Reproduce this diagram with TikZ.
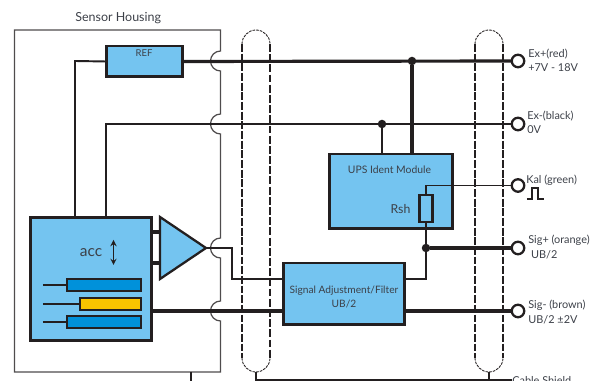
\documentclass[tikz,border=0pt]{standalone}
\usepackage{fontspec}
\setmainfont{Lato}
\usetikzlibrary{shapes.geometric}
\definecolor{boxblue}{HTML}{74C4F0}
\definecolor{barblue}{HTML}{0091DA}
\definecolor{baryellow}{HTML}{F8C400}
\definecolor{inkdark}{HTML}{231F20}
\definecolor{inktext}{HTML}{3C4048}
\tikzset{
    bluebox/.style={draw=inkdark,fill=boxblue,line width=1.7pt,inner sep=0pt,outer sep=0pt},
    barbox/.style={draw=inkdark,fill=barblue,line width=0.7pt,inner sep=0pt,outer sep=0pt,minimum height=0.24cm},
    terminal/.style={circle,draw=inkdark,fill=white,line width=1.3pt,minimum size=0.25cm,inner sep=0pt,outer sep=0pt},
    junction/.style={circle,fill=inkdark,minimum size=0.17cm,inner sep=0pt,outer sep=0pt},
    txt/.style={text=inktext,font=\fontsize{6.2}{8}\selectfont,inner sep=0pt},
    heavywire/.style={draw=inkdark,line width=1.8pt},
    wire/.style={draw=inkdark,line width=1.3pt},
    thinwire/.style={draw=inkdark,line width=0.6pt},
    shieldthick/.style={draw=inkdark,line width=1.3pt,dash pattern=on 4.5pt off 1pt},
    shieldthin/.style={draw=inkdark,line width=0.6pt,dash pattern=on 4.5pt off 1.3pt},
    shieldcap/.style={draw=inkdark,line width=0.5pt,dash pattern=on 1.5pt off 0.6pt}
}
\begin{document}
\begin{tikzpicture}[x=0.02cm,y=-0.02cm]
    \clip (0,0) rectangle (600,381);
    % housing with the four cable notches
    \draw[draw=inkdark!80,line width=0.7pt] (14.5,30) -- (220.5,30)
        foreach \y in {61,124,248,311} {-- (220.5,\y-10) arc[start angle=270,end angle=90,radius=10]}
        -- (220.5,372) -- (14.5,372) -- cycle;
    \node[txt,font=\fontsize{7.1}{8}\selectfont,anchor=west] (housing) at (75,18) {Sensor Housing};
    % blocks
    \node[bluebox,minimum width=1.54cm,minimum height=0.62cm] (ref) at (144.5,61.5) {};
    \node[txt,font=\fontsize{5.4}{7}\selectfont] (reflabel) at (144,53) {REF};
    \node[bluebox,minimum width=2.48cm,minimum height=1.5cm] (ups) at (391,191.5) {};
    \node[txt,font=\fontsize{5.9}{8}\selectfont] (upslabel) at (389.5,170) {UPS Ident Module};
    \node[txt,font=\fontsize{7}{8}\selectfont] (rshlabel) at (400.5,209) {Rsh};
    \node[bluebox,line width=1.2pt,minimum width=0.26cm,minimum height=0.54cm] (rsh) at (426,208.5) {};
    \node[bluebox,minimum width=2.44cm,minimum height=1.24cm] (filter) at (344,294) {};
    \node[txt,font=\fontsize{5.8}{7.9}\selectfont,align=center] (filterlabel) at (344,297) {Signal Adjustment/Filter\\UB/2};
    \node[bluebox,minimum width=2.44cm,minimum height=2.48cm] (acc) at (91,279) {};
    \node[txt,font=\fontsize{8.8}{11}\selectfont] (acclabel) at (91,253) {acc};
    \node[isosceles triangle,isosceles triangle stretches,bluebox,line width=1.3pt,minimum width=1.24cm,minimum height=0.92cm,anchor=lower side] (amp) at (160,248) {};
    % sensing elements
    \node[barbox,minimum width=1.48cm] (bartop) at (104,285) {};
    \node[barbox,fill=baryellow,minimum width=1.22cm] (barmid) at (110.5,304) {};
    \node[barbox,minimum width=1.48cm] (barbot) at (104,322) {};
    \coordinate (leadtop) at (43,285);
    \coordinate (leadmid) at (43,304);
    \coordinate (leadbot) at (43,322);
    \draw[thinwire] (leadtop) -- (bartop);
    \draw[wire] (leadmid) -- (barmid);
    \draw[thinwire] (leadbot) -- (barbot);
    \coordinate (arrowtop) at (113.5,240);
    \coordinate (arrowbot) at (113.5,265);
    \draw[thinwire,<->,>=stealth] (arrowtop) -- (arrowbot);
    % terminals
    \node[terminal] (expos) at (518,61) {};
    \node[terminal] (exneg) at (518,124) {};
    \node[terminal] (kal) at (518,185.5) {};
    \node[terminal] (sigpos) at (518,248) {};
    \node[terminal] (signeg) at (518,311) {};
    \node[txt,anchor=west,align=left] (exposlabel) at (528,60) {Ex+(red)\\+7V - 18V};
    \node[txt,anchor=west,align=left] (exneglabel) at (527,122) {Ex-(black)\\0V};
    \node[txt,anchor=west] (kallabel) at (526,180) {Kal (green)};
    \node[txt,anchor=west,align=left] (sigposlabel) at (528,247) {Sig+ (orange)\\\ UB/2};
    \node[txt,anchor=west,align=left] (signeglabel) at (528,312) {Sig- (brown)\\UB/2 ±2V};
    \node[txt,anchor=west] (shieldlabel) at (512,381) {Cable Shield};
    \draw[thinwire] (527,199) -- (532,199) -- (532,188) -- (538,188) -- (538,199) -- (544,199);
    % wiring
    \coordinate (refcorner) at (75,61);
    \coordinate (refdrop) at (75,217);
    \coordinate (exdrop) at (106,217);
    \coordinate (exneglevel) at (106,124);
    \node[junction] (exposdot) at (412,61) {};
    \node[junction] (exnegdot) at (382,124) {};
    \node[junction] (sigdot) at (426,248) {};
    \draw[wire,line width=1.1pt] (ref.west) -- (refcorner) -- (refdrop);
    \draw[heavywire] (ref.east) -- (expos);
    \draw[wire] (exdrop) -- (exneglevel) -- (exneg);
    \draw[heavywire] (exposdot) -- (exposdot |- ups.north);
    \draw[wire] (exnegdot) -- (exnegdot |- ups.north);
    \coordinate (kalcorner) at (426,185.5);
    \draw[wire,line width=1.1pt] (kal) -- (kalcorner) -- (rsh.north);
    \draw[wire,line width=1.1pt] (rsh.south) -- (sigdot);
    \coordinate (filterin) at (283,279);
    \coordinate (filterout) at (405,279);
    \coordinate (filterlow) at (405,311);
    \coordinate (acclow) at (152,311);
    \coordinate (ampturn) at (232,248);
    \coordinate (ampdown) at (232,279);
    \draw[wire,line width=1.1pt] (sigdot) |- (filterout);
    \draw[heavywire] (sigdot) -- (sigpos);
    \draw[heavywire] (filterlow) -- (signeg);
    \draw[heavywire] (acclow) -- (acclow -| filter.west);
    \draw[wire] (amp.apex) -- (ampturn) -- (ampdown) -- (filterin);
    \coordinate (ampinone) at (152,232);
    \coordinate (ampintwo) at (152,263);
    \draw[heavywire] (ampinone) -- (ampinone -| amp.lower side);
    \draw[heavywire] (ampintwo) -- (ampintwo -| amp.lower side);
    % cable shield
    \foreach \xa/\xb/\ra/\rb in {242/270/shieldthick/shieldthin,475/503/shieldthick/shieldthick} {
        \draw[\ra] (\xa,44) -- (\xa,358);
        \draw[\rb] (\xb,44) -- (\xb,358);
        \draw[shieldcap] (\xa,44) arc[start angle=180,end angle=360,radius=14];
        \draw[shieldcap] (\xa,358) arc[start angle=180,end angle=0,radius=14];
    }
    \coordinate (shieldone) at (256,372);
    \coordinate (shieldtwo) at (489,372);
    \coordinate (shieldend) at (512,380);
    \draw[wire,line width=0.9pt] (shieldone) |- (shieldend);
    \draw[thinwire] (shieldtwo) -- (shieldtwo |- shieldend);
    \coordinate (housingfoot) at (191,372);
    \coordinate (pagefoot) at (191,381);
    \draw[thinwire] (housingfoot) -- (pagefoot);
\end{tikzpicture}
\end{document}
